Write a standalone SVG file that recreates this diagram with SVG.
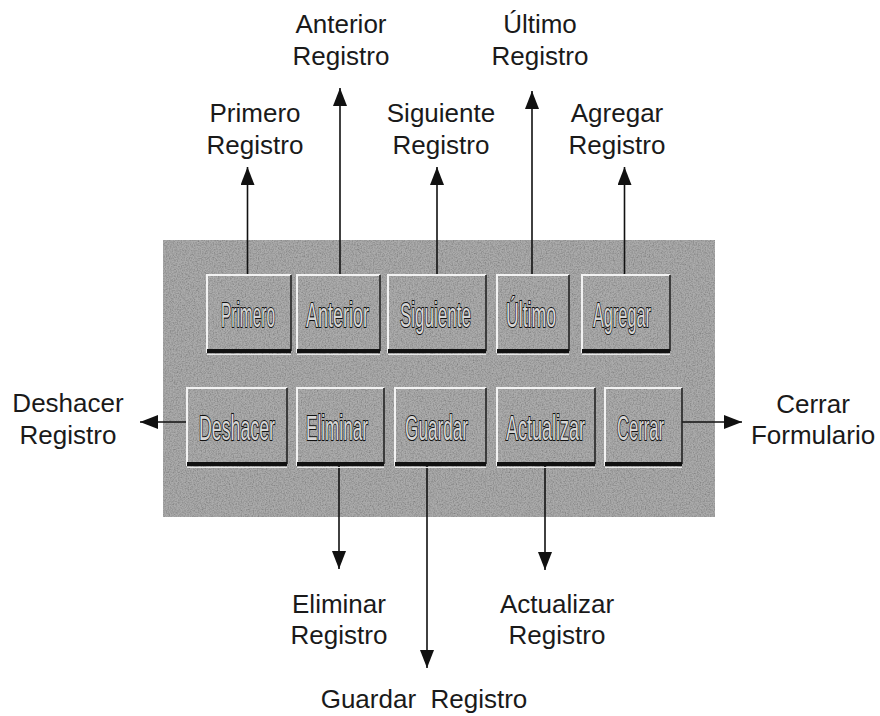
<svg xmlns="http://www.w3.org/2000/svg" width="880" height="716" viewBox="0 0 880 716">
<style>
.lbl{font-family:"Liberation Sans",Arial,sans-serif;font-size:26px;fill:#1a1a1a;text-anchor:middle}
.btxt{font-family:"Liberation Sans",Arial,sans-serif;font-size:35px;fill:#d6d6d6;stroke:#111;stroke-width:2.2;paint-order:stroke fill;text-anchor:middle}
.bface{fill:#acacac;filter:url(#grain)}
.hi{stroke:#f2f2f2;stroke-width:2;fill:none}
.sh{stroke:#222;stroke-width:1.6;fill:none}
.shb{stroke:#111;stroke-width:4;fill:none}
.hib{stroke:#e8e8e8;stroke-width:1.2;fill:none}
.con{stroke:#111;stroke-width:1.6;fill:none;marker-end:url(#ah)}
</style>
<defs>
<marker id="ah" viewBox="0 0 18 14" refX="18" refY="7" markerWidth="18" markerHeight="14" orient="auto" markerUnits="userSpaceOnUse">
<path d="M0,0 L18,7 L0,14 z" fill="#111"/>
</marker>
<filter id="grain" x="0" y="0" width="100%" height="100%">
<feTurbulence type="fractalNoise" baseFrequency="0.75" numOctaves="2" seed="4" result="n"/>
<feColorMatrix in="n" type="matrix" values="0 0 0 0 0  0 0 0 0 0  0 0 0 0 0  0.9 0 0 0 -0.33" result="g"/>
<feComposite in="g" in2="SourceGraphic" operator="in" result="gi"/>
<feMerge><feMergeNode in="SourceGraphic"/><feMergeNode in="gi"/></feMerge>
</filter>
</defs>
<rect width="880" height="716" fill="#ffffff"/>
<g id="panel">
<rect x="163" y="240" width="552" height="277" fill="#ababab" filter="url(#grain)"/>
</g>
<g id="connectors">
<line class="con" x1="247.5" y1="274" x2="247.5" y2="167"/>
<line class="con" x1="340" y1="274" x2="340" y2="88"/>
<line class="con" x1="437" y1="274" x2="437" y2="167"/>
<line class="con" x1="532" y1="274" x2="532" y2="91"/>
<line class="con" x1="624.5" y1="274" x2="624.5" y2="167"/>
<line class="con" x1="187" y1="422" x2="140" y2="422"/>
<line class="con" x1="682" y1="422" x2="742" y2="422"/>
<line class="con" x1="339" y1="466" x2="339" y2="569"/>
<line class="con" x1="427" y1="466" x2="427" y2="668"/>
<line class="con" x1="545" y1="466" x2="545" y2="570"/>
</g>
<g id="btn-primero">
<rect class="bface" x="207" y="275" width="84" height="78"/>
<path class="hi" d="M207,353 V275 H291"/><path class="sh" d="M291,275 V351"/><path class="shb" d="M207,351 H291"/><path class="hib" d="M207,354.5 H291"/>
<text class="btxt" transform="translate(248,327) scale(0.441,1)">Primero</text>
</g>
<g id="btn-anterior">
<rect class="bface" x="297" y="275" width="83" height="78"/>
<path class="hi" d="M297,353 V275 H380"/><path class="sh" d="M380,275 V351"/><path class="shb" d="M297,351 H380"/><path class="hib" d="M297,354.5 H380"/>
<text class="btxt" transform="translate(337.5,327) scale(0.514,1)">Anterior</text>
</g>
<g id="btn-siguiente">
<rect class="bface" x="388" y="275" width="98" height="78"/>
<path class="hi" d="M388,353 V275 H486"/><path class="sh" d="M486,275 V351"/><path class="shb" d="M388,351 H486"/><path class="hib" d="M388,354.5 H486"/>
<text class="btxt" transform="translate(435.5,327) scale(0.487,1)">Siguiente</text>
</g>
<g id="btn-ultimo">
<rect class="bface" x="497" y="275" width="72" height="78"/>
<path class="hi" d="M497,353 V275 H569"/><path class="sh" d="M569,275 V351"/><path class="shb" d="M497,351 H569"/><path class="hib" d="M497,354.5 H569"/>
<text class="btxt" transform="translate(531,327) scale(0.504,1)">Último</text>
</g>
<g id="btn-agregar">
<rect class="bface" x="582" y="275" width="88" height="78"/>
<path class="hi" d="M582,353 V275 H670"/><path class="sh" d="M670,275 V351"/><path class="shb" d="M582,351 H670"/><path class="hib" d="M582,354.5 H670"/>
<text class="btxt" transform="translate(622,327) scale(0.466,1)">Agregar</text>
</g>
<g id="btn-deshacer">
<rect class="bface" x="187" y="388" width="100" height="78"/>
<path class="hi" d="M187,466 V388 H287"/><path class="sh" d="M287,388 V464"/><path class="shb" d="M187,464 H287"/><path class="hib" d="M187,467.5 H287"/>
<text class="btxt" transform="translate(237,440) scale(0.507,1)">Deshacer</text>
</g>
<g id="btn-eliminar">
<rect class="bface" x="297" y="388" width="87" height="78"/>
<path class="hi" d="M297,466 V388 H384"/><path class="sh" d="M384,388 V464"/><path class="shb" d="M297,464 H384"/><path class="hib" d="M297,467.5 H384"/>
<text class="btxt" transform="translate(337,440) scale(0.49,1)">Eliminar</text>
</g>
<g id="btn-guardar">
<rect class="bface" x="395" y="388" width="91" height="78"/>
<path class="hi" d="M395,466 V388 H486"/><path class="sh" d="M486,388 V464"/><path class="shb" d="M395,464 H486"/><path class="hib" d="M395,467.5 H486"/>
<text class="btxt" transform="translate(436.5,440) scale(0.49,1)">Guardar</text>
</g>
<g id="btn-actualizar">
<rect class="bface" x="497" y="388" width="98" height="78"/>
<path class="hi" d="M497,466 V388 H595"/><path class="sh" d="M595,388 V464"/><path class="shb" d="M497,464 H595"/><path class="hib" d="M497,467.5 H595"/>
<text class="btxt" transform="translate(545.5,440) scale(0.514,1)">Actualizar</text>
</g>
<g id="btn-cerrar">
<rect class="bface" x="605" y="388" width="77" height="78"/>
<path class="hi" d="M605,466 V388 H682"/><path class="sh" d="M682,388 V464"/><path class="shb" d="M605,464 H682"/><path class="hib" d="M605,467.5 H682"/>
<text class="btxt" transform="translate(640.5,440) scale(0.474,1)">Cerrar</text>
</g>
<g id="lbl-primero"><text class="lbl" x="255" y="122">Primero</text><text class="lbl" x="255" y="154">Registro</text></g>
<g id="lbl-anterior"><text class="lbl" x="341" y="33">Anterior</text><text class="lbl" x="341" y="65">Registro</text></g>
<g id="lbl-siguiente"><text class="lbl" x="441" y="122">Siguiente</text><text class="lbl" x="441" y="154">Registro</text></g>
<g id="lbl-ultimo"><text class="lbl" x="540" y="33">Último</text><text class="lbl" x="540" y="65">Registro</text></g>
<g id="lbl-agregar"><text class="lbl" x="617" y="122">Agregar</text><text class="lbl" x="617" y="154">Registro</text></g>
<g id="lbl-deshacer"><text class="lbl" x="68" y="412">Deshacer</text><text class="lbl" x="68" y="444">Registro</text></g>
<g id="lbl-cerrar"><text class="lbl" x="813" y="413">Cerrar</text><text class="lbl" x="813" y="444">Formulario</text></g>
<g id="lbl-eliminar"><text class="lbl" x="339" y="613">Eliminar</text><text class="lbl" x="339" y="644">Registro</text></g>
<g id="lbl-actualizar"><text class="lbl" x="557" y="613">Actualizar</text><text class="lbl" x="557" y="644">Registro</text></g>
<g id="lbl-guardar"><text class="lbl" x="424" y="708" style="white-space:pre">Guardar  Registro</text></g>
</svg>
